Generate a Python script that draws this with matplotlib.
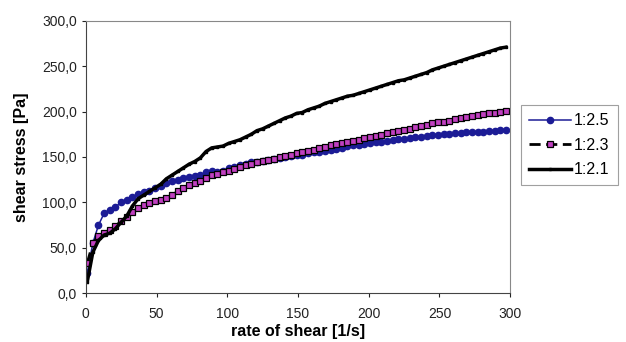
import matplotlib
matplotlib.use('Agg')
import matplotlib.pyplot as plt
from matplotlib.ticker import FuncFormatter

plt.rcParams['font.family'] = ['Liberation Sans', 'DejaVu Sans']

# rate of shear [1/s]
rate = [1, 5, 9, 13, 17, 21, 25, 29, 33, 37, 41, 45, 49, 53, 57, 61, 65, 69, 73, 77,
        81, 85, 89, 93, 97, 101, 105, 109, 113, 117, 121, 125, 129, 133, 137, 141, 145,
        149, 153, 157, 161, 165, 169, 173, 177, 181, 185, 189, 193, 197, 201, 205, 209,
        213, 217, 221, 225, 229, 233, 237, 241, 245, 249, 253, 257, 261, 265, 269, 273,
        277, 281, 285, 289, 293, 297]

# shear stress [Pa]
s_25 = [22, 55, 75, 88, 92, 95, 100, 103, 106, 109, 111, 113, 116, 118, 121, 123, 125,
        127, 128, 129, 130, 133, 134, 133, 134, 138, 139, 141, 142, 144, 145, 146, 147,
        148, 149, 150, 151, 152, 152, 154, 155, 156, 157, 158, 159, 160, 162, 163, 163,
        164, 165, 166, 167, 168, 169, 170, 170, 171, 172, 172, 173, 174, 174, 175, 175,
        176, 176, 177, 177, 178, 178, 179, 179, 180, 180]
s_23 = [33, 55, 63, 66, 70, 74, 79, 84, 89, 94, 97, 99, 101, 103, 105, 108, 112, 116,
        119, 121, 123, 127, 130, 131, 133, 135, 137, 139, 141, 142, 144, 146, 147, 148,
        150, 151, 152, 154, 155, 157, 158, 160, 161, 163, 164, 165, 167, 168, 169, 171,
        172, 173, 174, 176, 177, 179, 180, 181, 183, 184, 185, 187, 188, 189, 190, 192,
        193, 194, 195, 196, 197, 198, 199, 200, 201]
s_21 = [12, 45, 58, 64, 66, 71, 78, 85, 96, 104, 108, 112, 116, 120, 126, 130, 134, 138,
        142, 145, 149, 156, 160, 161, 162, 165, 167, 169, 172, 175, 179, 181, 184, 187,
        190, 193, 195, 198, 199, 202, 204, 206, 209, 211, 213, 215, 217, 218, 220, 222,
        224, 226, 228, 230, 232, 234, 235, 237, 239, 241, 243, 246, 248, 250, 252, 254,
        256, 258, 260, 262, 264, 266, 268, 270, 271]

names = ['1:2.5', '1:2.3', '1:2.1']

fig = plt.figure(figsize=(6.26, 3.42), dpi=100)
ax = fig.add_axes([0.137, 0.143, 0.678, 0.796])

ax.plot(rate, s_25, color='#1c1c96', linewidth=1.1, marker='o', markersize=4.5,
        markerfacecolor='#1c1c96', markeredgecolor='#1c1c96', label=names[0])
ax.plot(rate, s_23, color='black', linewidth=2.0, linestyle=(0, (4, 2)), marker='s',
        markersize=4.5, markerfacecolor='#c040c0', markeredgecolor='black',
        markeredgewidth=0.9, label=names[1])
ax.plot(rate, s_21, color='black', linewidth=2.5, marker='s', markersize=1.8,
        markerfacecolor='black', markeredgecolor='black', label=names[2])

ax.set_xlim(0, 300)
ax.set_ylim(0, 300)
ax.set_xticks([0, 50, 100, 150, 200, 250, 300])
ax.set_yticks([0, 50, 100, 150, 200, 250, 300])
ax.yaxis.set_major_formatter(FuncFormatter(lambda v, p: ('%.1f' % v).replace('.', ',')))
ax.tick_params(direction='out', length=3, labelsize=10, colors='#222222')
ax.tick_params(axis='x', pad=7)

for s in ['top', 'right']:
    ax.spines[s].set_color('#888888')
for s in ['left', 'bottom']:
    ax.spines[s].set_color('#444444')

ax.set_xlabel('rate of shear [1/s]', fontsize=11.5, fontweight='bold', labelpad=2)
ax.set_ylabel('shear stress [Pa]', fontsize=11.5, fontweight='bold', labelpad=9)

leg = fig.legend(loc='upper left', bbox_to_anchor=(0.833, 0.692), fontsize=11.5,
                 fancybox=False, edgecolor='#888888', handlelength=2.6,
                 borderpad=0.5, labelspacing=0.6, handletextpad=0.2,
                 borderaxespad=0)
leg.get_frame().set_linewidth(0.8)

fig.savefig('out.png', dpi=100)
